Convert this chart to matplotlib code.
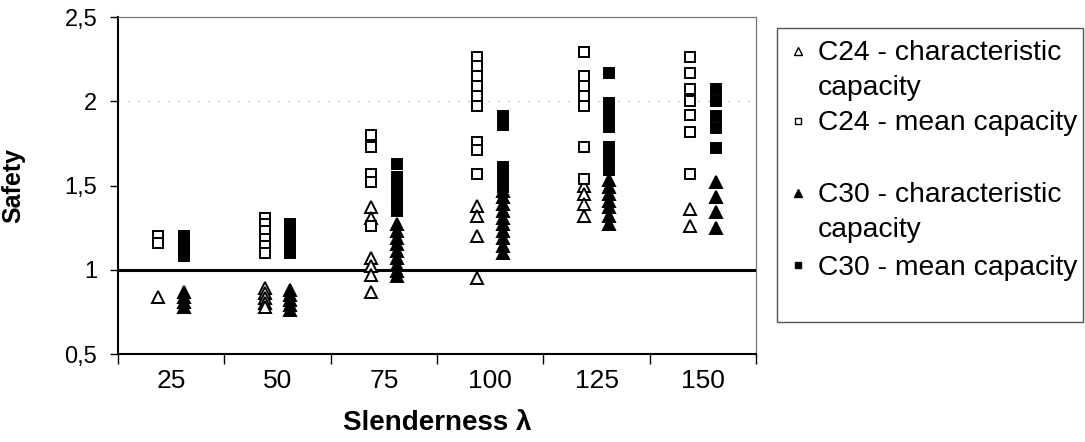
#%% libs
import matplotlib.pyplot as plt
from matplotlib.patches import Rectangle

#%% data (one list per slenderness class)
slenderness = [25, 50, 75, 100, 125, 150]
tick_labels = ['25', '50', '75', '100', '125', '150']

c24_char = [[0.84],
            [0.89, 0.86, 0.83, 0.80, 0.78],
            [1.37, 1.31, 1.07, 1.02, 0.97, 0.87],
            [1.38, 1.32, 1.20, 0.95],
            [1.50, 1.45, 1.39, 1.32],
            [1.36, 1.26]]
c24_mean = [[1.20, 1.16],
            [1.31, 1.27, 1.23, 1.18, 1.14, 1.10],
            [1.80, 1.73, 1.57, 1.52, 1.26],
            [2.26, 2.21, 2.15, 2.09, 2.03, 1.97, 1.76, 1.71, 1.57],
            [2.29, 2.15, 2.09, 2.03, 1.97, 1.73, 1.54],
            [2.26, 2.17, 2.07, 2.00, 1.92, 1.82, 1.57]]
c30_char = [[0.87, 0.84, 0.81, 0.78],
            [0.88, 0.85, 0.82, 0.79, 0.76],
            [1.27, 1.23, 1.19, 1.15, 1.11, 1.07, 1.03, 0.99, 0.96],
            [1.47, 1.43, 1.39, 1.35, 1.31, 1.27, 1.23, 1.19, 1.14, 1.10],
            [1.53, 1.49, 1.45, 1.41, 1.37, 1.32, 1.27],
            [1.52, 1.43, 1.34, 1.25]]
c30_mean = [[1.20, 1.17, 1.14, 1.11, 1.08],
            [1.27, 1.24, 1.20, 1.16, 1.13, 1.10],
            [1.63, 1.55, 1.51, 1.47, 1.43, 1.38, 1.35],
            [1.91, 1.86, 1.61, 1.57, 1.53, 1.49],
            [2.17, 1.99, 1.94, 1.89, 1.85, 1.73, 1.68, 1.64, 1.59],
            [2.07, 2.00, 1.91, 1.84, 1.72]]

legend_labels = ['C24 - characteristic\ncapacity',
                 'C24 - mean capacity',
                 'C30 - characteristic\ncapacity',
                 'C30 - mean capacity']

#%% styles
plt.rcParams['font.family'] = ['Liberation Sans', 'DejaVu Sans']
series = [(c24_char, -3, '^', 'white', 8.5),
          (c24_mean, -3, 's', 'white', 6.5),
          (c30_char, 3, '^', 'black', 8.5),
          (c30_mean, 3, 's', 'black', 6.5)]

#%% plot
fig = plt.figure(figsize=(10.85, 4.42), dpi=100)
ax = fig.add_axes([118/1085, 1 - 354/442, 638/1085, 337/442])

for values, offset, marker, face, size in series:
    for lam, ys in zip(slenderness, values):
        ax.plot([lam + offset] * len(ys), ys,
                linestyle='none',
                marker=marker,
                markersize=size,
                markerfacecolor=face,
                markeredgecolor='black',
                markeredgewidth=1.4,
                zorder=3)

ax.axhline(1, color='black', linewidth=2.2, zorder=2)
ax.axhline(2, color='#999999', linewidth=0.8, linestyle=(0, (1, 8)), zorder=1)

ax.set_xlim(12.5, 162.5)
ax.set_ylim(0.5, 2.5)
ax.set_yticks([0.5, 1, 1.5, 2, 2.5])
ax.set_yticklabels(['0,5', '1', '1,5', '2', '2,5'], fontsize=17)
ax.tick_params(axis='y', direction='out', length=6, width=1, pad=9)

# category axis: tick marks between classes, labels at class centres
ax.set_xticks([12.5 + 25 * k for k in range(7)])
ax.set_xticklabels([])
ax.tick_params(axis='x', which='major', direction='out', length=7, width=1)
ax.set_xticks(slenderness, minor=True)
ax.set_xticklabels(tick_labels, minor=True, fontsize=19)
ax.tick_params(axis='x', which='minor', length=0, pad=11)

for side in ['left', 'bottom']:
    ax.spines[side].set_linewidth(1.5)
for side in ['top', 'right']:
    ax.spines[side].set_color('#777777')
    ax.spines[side].set_linewidth(0.9)

ax.set_ylabel('Safety', fontsize=18, fontweight='bold')
ax.yaxis.set_label_coords(-0.146, 0.5)
ax.set_xlabel('Slenderness λ', fontsize=20, fontweight='bold')
ax.xaxis.set_label_coords(0.5, -0.165)

#%% legend box drawn by hand to keep the Excel layout
lax = fig.add_axes([777/1085, 1 - 322/442, 306/1085, 294/442])
lax.set_xlim(0, 306)
lax.set_ylim(294, 0)
lax.axis('off')
lax.add_patch(Rectangle((0, 0), 1, 1, transform=lax.transAxes, fill=False,
                        edgecolor='#555555', linewidth=1.0, clip_on=False))

marker_y = [23, 93, 165, 237]
text_y = [32, 102, 174, 247]
line_step = 35
for (values, offset, marker, face, size), label, my, ty in zip(series, legend_labels, marker_y, text_y):
    lax.plot([21], [my], linestyle='none', marker=marker,
             markersize=size * 0.62, markerfacecolor=face,
             markeredgecolor='black', markeredgewidth=1.0)
    for i, line in enumerate(label.split('\n')):
        lax.text(41, ty + i * line_step, line, fontsize=20.3,
                 va='baseline', ha='left')

plt.savefig('out.png', dpi=100)
